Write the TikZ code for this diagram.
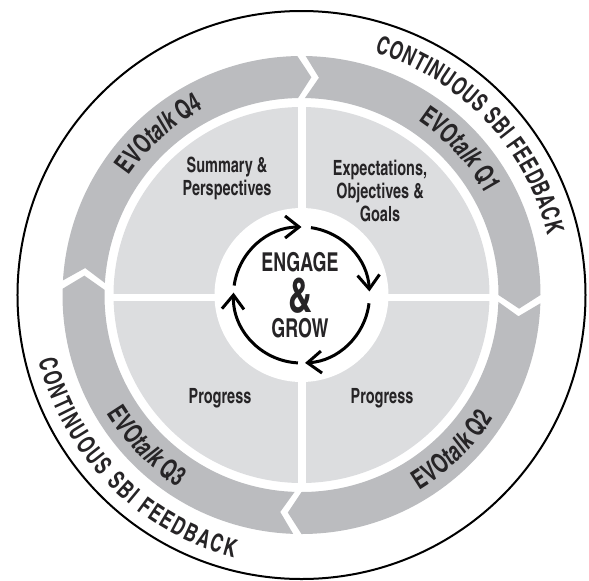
\documentclass[tikz,border=0pt]{standalone}
\usepackage{fontspec}
\newfontfamily\gothicnarrow{TeX Gyre Heros Cn}[FakeStretch=0.84]
\usepackage{tikz}
\usetikzlibrary{arrows.meta,decorations.text}

\definecolor{bandgray}{RGB}{187,188,191}
\definecolor{quadgray}{RGB}{220,221,223}
\definecolor{inkgray}{RGB}{38,36,38}

\newcommand{\outerfont}{\gothicnarrow\bfseries\fontsize{12.5}{13}\selectfont\color{inkgray}}
\newcommand{\bandfont}{\gothicnarrow\bfseries\fontsize{13.5}{14}\selectfont\color{inkgray}}

\tikzset{
  quadtext/.style={align=center, text=inkgray, font=\gothicnarrow\bfseries\fontsize{10.5}{11.5}\selectfont},
  hubtext/.style={text=inkgray, inner sep=0pt, font=\gothicnarrow\bfseries\fontsize{13}{14}\selectfont},
  cyclearc/.style={line width=1.5pt, -{Straight Barb[length=7pt,width=11pt]}},
}

\begin{document}
\begin{tikzpicture}[x=0.5pt,y=0.5pt]
\useasboundingbox (-301.5,-285) rectangle (287.5,295);

\draw[line width=1pt] (0,0) circle[radius=284];

% quarterly band, each piece ends in a point
\foreach \a/\b in {90/-1, -1/-91, -91/-182.5, 177.5/90}
  \fill[bandgray] (\a-1:239) arc[start angle=\a-1, end angle=\b+1, radius=239]
    -- (\b-2.6:218) -- (\b+1:197)
    arc[start angle=\b+1, end angle=\a-1, radius=197]
    -- (\a-4.6:218) -- cycle;

% inner quadrants
\fill[quadgray] (0,0) circle[radius=188];
\fill[white] (-3.5,-192) rectangle (4.5,192);
\fill[white] (-192,-6) rectangle (192,1);
\fill[white] (0,0) circle[radius=87];

% engage & grow cycle
\draw[cyclearc] (172:68) arc[start angle=172, end angle=90, radius=68];
\draw[cyclearc] (82:68) arc[start angle=82, end angle=3, radius=68];
\draw[cyclearc] (-7:68) arc[start angle=-7, end angle=-87, radius=68];
\draw[cyclearc] (-93:68) arc[start angle=-93, end angle=-182, radius=68];

\node[hubtext] (engage) at (-1.5,33) {ENGAGE};
\node[hubtext, font=\gothicnarrow\bfseries\fontsize{24}{25}\selectfont] (amp) at (-1.5,-1) {\&};
\node[hubtext] (grow) at (-1.5,-33) {GROW};

\node[quadtext] (summary) at (-74.5,116.5) {Summary \&\\Perspectives};
\node[quadtext] (expect) at (78.5,104.5) {Expectations,\\Objectives \&\\Goals};
\node[quadtext] (progleft) at (-81.5,-103) {Progress};
\node[quadtext] (progright) at (80.5,-103) {Progress};

% band labels
\path[decorate, decoration={text along path, text align=fit to path,
  text={|\bandfont|EVO|\bandfont\itshape|talk |\bandfont|Q1}}]
  (56.3:210) arc[start angle=56.3, end angle=28.7, radius=210];
\path[decorate, decoration={text along path, text align=fit to path,
  text={|\bandfont|EVO|\bandfont\itshape|talk |\bandfont|Q4}}]
  (145.3:210) arc[start angle=145.3, end angle=118.7, radius=210];
\path[decorate, decoration={text along path, text align=fit to path,
  text={|\bandfont|EVO|\bandfont\itshape|talk |\bandfont|Q2}}]
  (-58.9:228) arc[start angle=-58.9, end angle=-32.7, radius=228];
\path[decorate, decoration={text along path, text align=fit to path,
  text={|\bandfont|EVO|\bandfont\itshape|talk |\bandfont|Q3}}]
  (211.4:228) arc[start angle=211.4, end angle=237.3, radius=228];

% feedback labels
\path[decorate, decoration={text along path, text align=fit to path,
  text={|\outerfont|CONTINUOUS SBI FEEDBACK}}]
  (73.2:253) arc[start angle=73.2, end angle=13.7, radius=253];
\path[decorate, decoration={text along path, text align=fit to path,
  text={|\outerfont|CONTINUOUS SBI FEEDBACK}}]
  (194:271) arc[start angle=194, end angle=255.5, radius=271];
\end{tikzpicture}
\end{document}
